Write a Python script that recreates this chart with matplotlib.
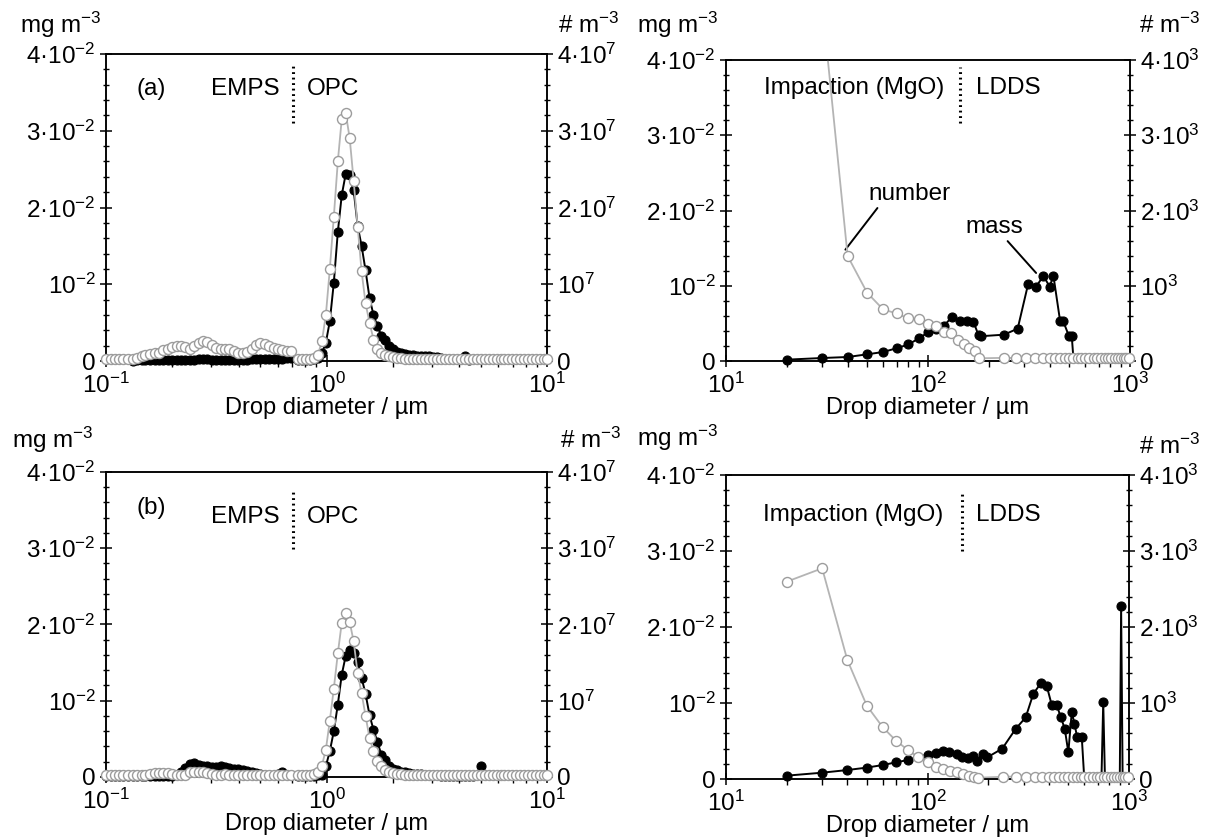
import numpy as np
import matplotlib
matplotlib.use('Agg')
import matplotlib.pyplot as plt
from matplotlib.ticker import MultipleLocator, LogLocator, NullFormatter

plt.rcParams['font.family'] = 'Liberation Sans'
plt.rcParams['mathtext.fontset'] = 'custom'
plt.rcParams['mathtext.rm'] = 'Liberation Sans'
plt.rcParams['mathtext.it'] = 'Liberation Sans:italic'
plt.rcParams['mathtext.bf'] = 'Liberation Sans:bold'
plt.rcParams['font.size'] = 17.5

# ---- small drops: EMPS + OPC bins (um) ----
d_emps = [0.100, 0.105, 0.110, 0.115, 0.120, 0.126, 0.132, 0.138, 0.145, 0.151,
          0.158, 0.166, 0.174, 0.182, 0.191, 0.200, 0.209, 0.219, 0.229, 0.240,
          0.251, 0.263, 0.275, 0.288, 0.302, 0.316, 0.331, 0.347, 0.363, 0.380,
          0.398, 0.417, 0.437, 0.457, 0.479, 0.501, 0.525, 0.550, 0.575, 0.603,
          0.631, 0.661, 0.692]
d_opc = [0.743, 0.774, 0.807, 0.841, 0.877, 0.914,
         0.953, 0.993, 1.035, 1.079, 1.125, 1.172, 1.222,
         1.274, 1.327, 1.384, 1.442, 1.503, 1.567, 1.633, 1.702, 1.774, 1.849, 1.928, 2.009,
         2.094, 2.183, 2.275, 2.371, 2.472, 2.576, 2.685, 2.799, 2.917, 3.041,
         3.170, 3.304, 3.443, 3.589, 3.741, 3.899, 4.064, 4.236, 4.416, 4.603,
         4.797, 5.000, 5.212, 5.433, 5.662, 5.902, 6.152, 6.412, 6.683, 6.966,
         7.261, 7.568, 7.889, 8.222, 8.570, 8.933, 9.311, 9.705, 10.0]

# panel (a): mass in 1e-3 mg m-3, number in 1e6 m-3
a_mass_emps = [0.0, 0.0, 0.0, 0.0, 0.0, 0.0, 0.05, 0.1, 0.1, 0.1,
               0.1, 0.1, 0.1, 0.15, 0.15, 0.15, 0.15, 0.15, 0.15, 0.15,
               0.15, 0.2, 0.2, 0.2, 0.15, 0.15, 0.15, 0.15, 0.15, 0.15,
               0.1, 0.1, 0.15, 0.2, 0.2, 0.25, 0.25, 0.25, 0.3, 0.3,
               0.3, 0.35, 0.4]
a_num_emps = [0.3, 0.3, 0.3, 0.3, 0.3, 0.3, 0.3, 0.4, 0.6, 0.8,
              0.9, 1.0, 1.1, 1.4, 1.6, 1.8, 2.0, 2.0, 1.8, 1.6,
              1.9, 2.4, 2.6, 2.5, 2.1, 1.7, 1.5, 1.5, 1.6, 1.3,
              1.1, 1.0, 1.2, 1.6, 2.1, 2.3, 2.2, 2.0, 1.7, 1.5,
              1.4, 1.3, 1.3]
a_mass_opc = [0.1, 0.1, 0.1, 0.1, 0.2, 0.4,
              1.0, 2.4, 5.2, 10.2, 16.8, 21.6, 24.4,
              24.2, 22.3, 17.6, 15.0, 11.8, 8.2, 6.0, 4.5, 3.3, 2.7, 2.0, 1.6,
              1.2, 1.0, 0.9, 0.8, 0.8, 0.7, 0.7, 0.6, 0.6, 0.5,
              0.5, 0.4, 0.3, 0.3, 0.2, 0.2, 0.2, 0.6, 0.1, 0.0,
              0.0, 0.0, 0.0, 0.0, 0.0, 0.0, 0.0, 0.0, 0.0, 0.0,
              0.0, 0.0, 0.0, 0.0, 0.0, 0.0, 0.0, 0.0, 0.0]
a_num_opc = [0.3, 0.2, 0.2, 0.3, 0.4, 0.8,
             2.6, 6.0, 12.0, 18.8, 26.0, 31.5, 32.3,
             29.0, 23.5, 17.5, 11.7, 7.5, 5.0, 2.8, 1.6, 1.1, 0.8, 0.6, 0.5,
             0.4, 0.4, 0.3, 0.3, 0.3, 0.3, 0.3, 0.3, 0.2, 0.2,
             0.2, 0.3, 0.2, 0.2, 0.2, 0.3, 0.2, 0.2, 0.2, 0.2,
             0.2, 0.2, 0.3, 0.2, 0.2, 0.2, 0.2, 0.2, 0.2, 0.2,
             0.2, 0.2, 0.2, 0.2, 0.2, 0.2, 0.2, 0.2, 0.2]

# panel (b)
b_mass_emps = [0.1, 0.1, 0.1, 0.1, 0.1, 0.1, 0.1, 0.1, 0.1, 0.1,
               0.1, 0.1, 0.1, 0.1, 0.1, 0.1, 0.2, 0.6, 1.2, 1.7,
               1.8, 1.6, 1.5, 1.4, 1.3, 1.3, 1.4, 1.3, 1.2, 1.1,
               1.0, 0.9, 0.8, 0.6, 0.5, 0.4, 0.3, 0.3, 0.3, 0.4,
               0.6, 0.3, 0.2]
b_num_emps = [0.25, 0.25, 0.25, 0.25, 0.25, 0.25, 0.25, 0.25, 0.25, 0.3,
              0.4, 0.5, 0.5, 0.55, 0.5, 0.4, 0.3, 0.2, 0.3, 0.6,
              0.7, 0.7, 0.6, 0.5, 0.4, 0.3, 0.3, 0.35, 0.3, 0.3,
              0.25, 0.3, 0.3, 0.25, 0.3, 0.3, 0.25, 0.25, 0.3, 0.25,
              0.25, 0.3, 0.3]
b_mass_opc = [0.1, 0.1, 0.1, 0.1, 0.1, 0.2,
              0.3, 1.4, 3.4, 6.0, 9.5, 13.4, 15.9,
              16.7, 16.3, 15.1, 13.0, 10.9, 8.1, 6.2, 4.6, 2.9, 2.2, 1.5, 1.1,
              0.9, 0.7, 0.6, 0.5, 0.4, 0.4, 0.4, 0.3, 0.3, 0.2,
              0.2, 0.1, 0.1, 0.1, 0.1, 0.1, 0.1, 0.1, 0.1, 0.1,
              np.nan, 1.4, np.nan, 0.0, 0.0, 0.0, 0.0, 0.0, 0.0, 0.0,
              0.0, 0.0, 0.0, 0.0, 0.0, 0.0, 0.0, 0.0, 0.0]
b_num_opc = [0.3, 0.3, 0.3, 0.3, 0.4, 0.6,
             1.5, 3.6, 7.4, 11.6, 16.2, 20.2, 21.5,
             20.3, 17.8, 13.6, 11.0, 8.0, 5.1, 3.4, 2.1, 1.4, 0.9, 0.6, 0.5,
             0.4, 0.4, 0.3, 0.3, 0.3, 0.3, 0.3, 0.3, 0.3, 0.2,
             0.3, 0.3, 0.2, 0.3, 0.3, 0.2, 0.3, 0.3, 0.3, 0.2,
             0.3, 0.3, 0.2, 0.3, 0.3, 0.3, 0.2, 0.3, 0.3, 0.3,
             0.2, 0.3, 0.3, 0.3, 0.2, 0.3, 0.3, 0.3, 0.3]

# ---- large drops: impaction (MgO) + LDDS (um) ----
d_num_big = [20, 30, 40, 50, 60, 70, 80, 90, 100, 110,
             120, 130, 140, 150, 160, 170, 179, 238, 274, 307,
             340, 370, 400, 425, 450, 475, 500, 525, 550, 575,
             600, 630, 660, 690, 720, 750, 780, 810, 840, 870,
             900, 930, 960, 990]
# number in m-3
a_num_big = [5200, 4720, 1395, 906, 685, 632, 565, 552, 495, 460,
             390, 376, 280, 222, 170, 133, 36, 42, 40, 44,
             40, 42, 44, 40, 42, 40, 44, 42, 40, 42,
             44, 40, 42, 40, 44, 42, 40, 40, 42, 44,
             40, 42, 40, 42]
b_num_big = [2596, 2772, 1566, 964, 680, 500, 382, 285, 228, 162,
             136, 109, 88, 66, 44, 30, 17, 30, 32, 30,
             30, 32, 30, 30, 32, 30, 30, 32, 30, 30,
             32, 30, 30, 32, 30, 30, 30, 32, 30, 30,
             32, 30, 30, 32]
# mass in 1e-3 mg m-3
a_d_mass_big = [20, 30, 40, 50, 60, 70, 80, 90, 100, 110,
                120, 132, 144, 156, 168, 178, 184, 238, 278, 313,
                343, 373, 400, 418, 451, 467, 499, 515, 526]
a_mass_big = [0.18, 0.4, 0.53, 0.89, 1.2, 1.7, 2.2, 3.0, 3.8, 4.3,
              4.7, 5.9, 5.3, 5.3, 5.2, 3.4, 3.3, 3.5, 4.3, 10.2,
              9.9, 11.3, 9.9, 11.3, 5.3, 5.3, 3.3, 3.3, 0.0]
b_d_mass_big = [20, 30, 40, 50, 60, 70, 80, 90, 100, 110,
                119, 128, 140, 149, 158, 168, 176, 188, 198,
                235, 274, 307, 335, 365, 391, 414, 438, 458, 480, 500,
                520, 536, 553, 583, 600,
                650, 700, 730, 745, 760,
                820, 880, 900, 914, 930,
                960, 1000]
b_mass_big = [0.44, 0.83, 1.18, 1.5, 1.84, 2.2, 2.5, 2.9, 3.2, 3.46,
              3.68, 3.6, 3.3, 2.85, 2.7, 3.0, 2.4, 3.3, 2.85,
              4.0, 6.6, 8.1, 11.2, 12.6, 12.2, 9.7, 9.7, 8.2, 6.6, 3.5,
              8.8, 7.3, 5.5, 5.5, 0.0,
              0.0, 0.0, 0.0, 10.1, 0.0,
              0.0, 0.0, 0.0, 22.7, 0.0,
              0.0, 0.0]

mass_ticks = [0, 0.01, 0.02, 0.03, 0.04]
mass_labels = ['0', '10$^{-2}$', '2·10$^{-2}$', '3·10$^{-2}$', '4·10$^{-2}$']
num7_labels = ['0', '10$^{7}$', '2·10$^{7}$', '3·10$^{7}$', '4·10$^{7}$']
num3_labels = ['0', '10$^{3}$', '2·10$^{3}$', '3·10$^{3}$', '4·10$^{3}$']
xlabels_small = ['10$^{-1}$', '10$^{0}$', '10$^{1}$']
xlabels_big = ['10$^{1}$', '10$^{2}$', '10$^{3}$']

GREY_LINE = '#b4b4b4'
GREY_EDGE = '#9c9c9c'


def filled(ax, x, y, scale):
  x = np.asarray(x, float)
  y = np.asarray(y, float) * scale
  ax.plot(x, y, '-', color='black', lw=1.4, zorder=2)
  keep = y > 0
  ax.plot(x[keep], y[keep], 'o', ms=6.5, mfc='black', mec='black',
          mew=0.8, clip_on=False, zorder=3)


def hollow(ax, x, y, scale):
  x = np.asarray(x, float)
  y = np.asarray(y, float) * scale
  ax.plot(x, y, '-', color=GREY_LINE, lw=1.3, zorder=2)
  keep = y <= ax.get_ylim()[1]
  ax.plot(x[keep], y[keep], 'o', ms=7.2, mfc='white', mec=GREY_EDGE,
          mew=1.0, clip_on=False, zorder=3)


def setup(rect, xlim, xlabels, num_top, num_labels):
  ax = fig.add_axes(rect)
  ax.set_xscale('log')
  ax.set_xlim(xlim)
  ax.set_ylim(0, 0.04)
  ax.set_yticks(mass_ticks)
  ax.set_yticklabels(mass_labels)
  ax.yaxis.set_minor_locator(MultipleLocator(0.002))
  dec = [xlim[0], xlim[0] * 10, xlim[1]]
  ax.set_xticks(dec)
  ax.set_xticklabels(xlabels)
  ax.xaxis.set_minor_locator(LogLocator(base=10, subs=np.arange(2, 10)))
  ax.xaxis.set_minor_formatter(NullFormatter())
  ax.tick_params(axis='x', which='major', direction='inout', length=9,
                 width=1.1, pad=4)
  ax.tick_params(axis='x', which='minor', direction='out', length=4, width=1)
  ax.tick_params(axis='y', which='major', direction='inout', length=9,
                 width=1.1, pad=3)
  ax.tick_params(axis='y', which='minor', direction='inout', length=5, width=1)
  ax.set_xlabel('Drop diameter / µm', labelpad=-1, fontsize=17)
  ax2 = ax.twinx()
  ax2.set_ylim(0, num_top)
  ax2.set_yticks([num_top * t / 0.04 for t in mass_ticks])
  ax2.set_yticklabels(num_labels)
  ax2.yaxis.set_minor_locator(MultipleLocator(num_top / 20))
  ax2.tick_params(axis='y', which='major', direction='inout', length=9,
                  width=1.1, pad=3)
  ax2.tick_params(axis='y', which='minor', direction='inout', length=5,
                  width=1)
  for a in (ax, ax2):
    for s in a.spines.values():
      s.set_linewidth(1.1)
  return ax, ax2


def divider(ax, x, y0, y1):
  ax.plot([x, x], [y0, y1], color='black', lw=2.2, ls=(0, (0.6, 1.2)),
          solid_capstyle='butt', dash_capstyle='butt', zorder=4)


fig = plt.figure(figsize=(12.2, 8.38), dpi=100)

# (a) top left
ax, ax2 = setup([0.0869, 0.5692, 0.3615, 0.3663], (0.1, 10), xlabels_small,
                4e7, num7_labels)
filled(ax, d_emps, a_mass_emps, 1e-3)
filled(ax, d_opc, a_mass_opc, 1e-3)
hollow(ax2, d_emps, a_num_emps, 1e6)
hollow(ax2, d_opc, a_num_opc, 1e6)
ax.text(0.137, 0.0355, '(a)', ha='left', va='center')
ax.text(0.615, 0.0355, 'EMPS', ha='right', va='center')
ax.text(0.816, 0.0355, 'OPC', ha='left', va='center')
divider(ax, 0.705, 0.031, 0.0386)

# top right
ax, ax2 = setup([0.5951, 0.5692, 0.3311, 0.3592], (10, 1000), xlabels_big,
                4e3, num3_labels)
filled(ax, a_d_mass_big, a_mass_big, 1e-3)
hollow(ax2, d_num_big, a_num_big, 1)
ax.text(120, 0.0363, 'Impaction (MgO)', ha='right', va='center')
ax.text(173, 0.0363, 'LDDS', ha='left', va='center')
divider(ax, 144, 0.0316, 0.0391)
ax.annotate('number', xy=(39, 0.0148), xytext=(50.5, 0.0207),
            ha='left', va='bottom', zorder=5,
            arrowprops=dict(arrowstyle='-', color='black', lw=1.4,
                            shrinkA=0, shrinkB=0, relpos=(0.14, 0.0)))
ax.annotate('mass', xy=(343, 0.0117), xytext=(154, 0.0163),
            ha='left', va='bottom', zorder=5,
            arrowprops=dict(arrowstyle='-', color='black', lw=1.4,
                            shrinkA=0, shrinkB=0, relpos=(0.68, 0.0)))

# (b) bottom left
ax, ax2 = setup([0.0869, 0.0728, 0.3615, 0.3640], (0.1, 10), xlabels_small,
                4e7, num7_labels)
filled(ax, d_emps, b_mass_emps, 1e-3)
filled(ax, d_opc, b_mass_opc, 1e-3)
hollow(ax2, d_emps, b_num_emps, 1e6)
hollow(ax2, d_opc, b_num_opc, 1e6)
ax.text(0.137, 0.0353, '(b)', ha='left', va='center')
ax.text(0.615, 0.0341, 'EMPS', ha='right', va='center')
ax.text(0.816, 0.0341, 'OPC', ha='left', va='center')
divider(ax, 0.705, 0.0299, 0.0375)

# bottom right
ax, ax2 = setup([0.5951, 0.0704, 0.3303, 0.3628], (10, 1000), xlabels_big,
                4e3, num3_labels)
filled(ax, b_d_mass_big, b_mass_big, 1e-3)
hollow(ax2, d_num_big, b_num_big, 1)
ax.text(120, 0.0348, 'Impaction (MgO)', ha='right', va='center')
ax.text(174, 0.0348, 'LDDS', ha='left', va='center')
divider(ax, 148, 0.0300, 0.0375)

# unit labels above the axes
fig.text(0.016, 0.970, 'mg m$^{-3}$', va='center')
fig.text(0.457, 0.970, '# m$^{-3}$', va='center')
fig.text(0.522, 0.970, 'mg m$^{-3}$', va='center')
fig.text(0.9336, 0.970, '# m$^{-3}$', va='center')
fig.text(0.010, 0.475, 'mg m$^{-3}$', va='center')
fig.text(0.459, 0.475, '# m$^{-3}$', va='center')
fig.text(0.522, 0.477, 'mg m$^{-3}$', va='center')
fig.text(0.9336, 0.468, '# m$^{-3}$', va='center')

fig.savefig('out.png', dpi=100)
